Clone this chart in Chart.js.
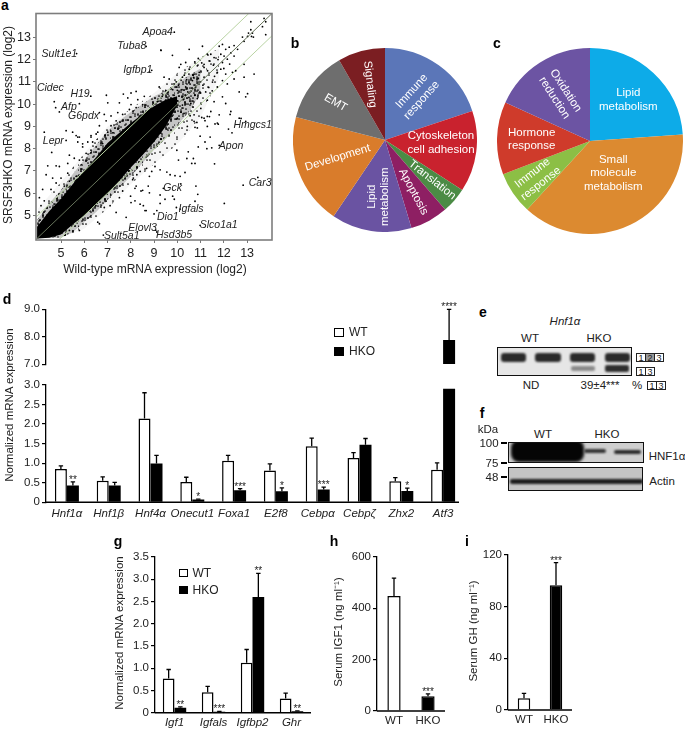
<!DOCTYPE html>
<html>
<head>
<meta charset="utf-8">
<title>SRSF3HKO figure</title>
<script src="https://cdn.jsdelivr.net/npm/chart.js@4/dist/chart.umd.min.js"></script>
<style>
  html, body { margin: 0; padding: 0; background: #fff; }
  #page { position: relative; width: 685px; height: 731px; overflow: hidden; font-family: "Liberation Sans", Arial, sans-serif; color: #222; }
  canvas { position: absolute; }
  .txt { position: absolute; white-space: nowrap; transform: translate(-50%, -50%); }
  .blot { position: absolute; }
  .frame { position: absolute; box-sizing: border-box; border: 1.5px solid #111; overflow: hidden; }
  .exon { position: absolute; box-sizing: border-box; border: 1px solid #222; font-size: 9px; line-height: 8px; text-align: center; }
</style>
</head>
<body>
<div id="page"></div>
<script>
// ---- panel a: values (log2) ----
const scatterTicks = [5, 6, 7, 8, 9, 10, 11, 12, 13];
const geneNames = ['Apoa4', 'Tuba8', 'Sult1e1', 'Igfbp1', 'Cidec', 'H19', 'Afp', 'G6pdx', 'Lepr', 'Hmgcs1', 'Apon', 'Car3', 'Gck', 'Igfals', 'Dio1', 'Slco1a1', 'Elovl3', 'Hsd3b5', 'Sult5a1'];
const geneLabelX = [9.16, 8.04, 4.93, 8.30, 4.54, 5.82, 5.34, 5.97, 4.67, 13.24, 12.31, 13.56, 9.80, 10.59, 9.59, 11.78, 8.51, 9.86, 7.61];
const geneLabelY = [13.23, 12.59, 12.27, 11.52, 10.72, 10.43, 9.89, 9.45, 8.32, 9.06, 8.10, 6.44, 6.23, 5.28, 4.95, 4.57, 4.44, 4.12, 4.07];
// the cloud is too dense to read dot by dot, so only its outline is read: a solid
// core and two bands shaded with a density texture (the texture is not data),
// then the dots that can be told apart are listed in scatterPoints
const coreX = [3.97, 4.5, 5, 5.5, 6, 6.5, 7, 7.5, 8, 8.5, 9, 9.5, 10];
const coreUpper = [4.5, 5.2, 5.75, 6.4, 7.0, 7.6, 8.25, 8.7, 9.15, 9.55, 9.9, 10.2, 10.35];
const coreLower = [3.97, 4.0, 4.15, 4.6, 5.0, 5.5, 6.0, 6.55, 7.15, 7.7, 8.3, 9.0, 9.95];
const innerX = [3.97, 4.5, 5, 5.5, 6, 6.5, 7, 7.5, 8, 8.5, 9, 9.5, 10, 10.5, 11];
const innerUpper = [4.8, 5.55, 6.15, 6.85, 7.5, 8.15, 8.8, 9.25, 9.65, 10.0, 10.35, 10.6, 10.95, 11.3, 11.6];
const innerLower = [3.97, 4.0, 4.0, 4.25, 4.7, 5.15, 5.7, 6.25, 6.75, 7.35, 7.95, 8.45, 9.05, 9.65, 10.5];
const outerX = [4, 5, 6, 7, 8, 9, 10, 11, 11.8];
const outerUpper = [5.3, 6.5, 7.8, 9.0, 9.8, 10.5, 11.4, 12.1, 12.5];
const outerLower = [3.97, 4.0, 4.4, 5.3, 6.4, 7.3, 8.2, 9.4, 11.2];
const guideX = [3.9, 14.1];
const guideMiddle = [3.9, 14.1];
const guideAbove = [4.9, 15.1];
const guideBelow = [2.9, 13.1];
const scatterPoints = [
  [5.67,12.27],[9.87,13.23],[8.66,12.59],[9.30,12.41],[9.79,12.19],[8.90,11.52],[6.28,10.36],[6.95,10.40],[4.71,10.11],[4.77,9.84],[4.93,9.65],[5.79,10.02],[4.28,8.74],[5.22,8.81],[5.22,8.37],[4.60,7.83],
  [7.01,10.06],[7.68,10.45],[8.01,10.5],[8.23,10.57],[7.87,10.28],[8.01,9.98],[8.30,10.2],[8.58,10.35],[8.51,9.98],[8.23,9.84],[7.94,9.76],[7.51,10.06],[7.44,9.62],[7.65,9.54],[7.15,9.47],[6.86,9.54],[6.65,9.62],[7.37,9.25],[7.15,9.03],[6.94,9.25],[6.65,9.03],[6.51,8.66],[6.29,8.52],[6.15,8.3],[5.93,8.22],[5.72,8.52],[5.5,8.74],[8.8,11.45],
  [5.65,8.59],[5.79,8.52],[5.72,8.3],[4.79,7.23],[4.93,7.2],[4.43,7.23],[4.36,6.83],[4.64,6.68],[5.0,6.68],[4.79,6.46],[4.57,6.17],[4.21,6.17],[4.07,5.80],[4.28,5.66],[4.14,5.44],[5.36,7.71],[5.57,7.57],[5.29,7.34],[5.79,7.49],[6.08,7.79],[6.29,7.93],[5.93,8.08],[6.51,8.08],[6.79,8.23],[6.36,8.3],[6.29,8.59],[6.58,8.74],[7.01,8.74],[5.65,6.76],[5.36,6.54],[5.14,6.32],[5.29,6.9],
  [6.82,4.12],[9.07,4.34],[6.65,4.63],[6.58,4.70],[5.79,4.33],[5.36,4.33],[7.37,5.14],[7.8,4.92],[7.11,5.44],[6.86,5.36],[6.5,5.44],[6.94,5.65],[7.51,5.8],[8.01,5.58],[8.66,5.22],[7.65,6.1],[8.23,6.32],[8.44,6.1],[8.8,6.76],[8.08,6.61],
  [13.46,6.71],[12.83,6.36],[11.6,7.32],[11.8,8.15],[12.02,5.54],[10.8,6.32],[10.88,5.95],[10.76,5.64],[10.98,4.56],[10.12,5.29],[9.96,5.36],[9.4,6.22],[10.15,6.42],[9.8,5.87],[9.87,5.73],[9.47,5.73],[9.26,5.92],[9.26,5.54],[9.12,5.22],[9.0,5.07],[9.12,4.26],[8.61,5.22],[8.4,5.51],[8.54,5.44],[8.18,5.66],[7.99,5.87],[8.18,6.22],[8.51,6.13],[8.75,6.32],[8.8,6.02],
  [10.33,6.93],[10.12,6.76],[9.69,6.83],[9.9,6.79],[9.55,6.95],[9.26,7.05],[9.04,7.2],[8.9,6.98],[8.68,7.12],[8.4,6.98],[8.26,6.83],[8.11,6.68],[10.69,7.56],[10.76,7.34],[10.62,7.34],[10.41,7.56],[10.05,7.49],[9.98,7.93],[10.47,7.86],[10.9,8.08],[11.27,8.0],[11.48,8.04],[12.2,8.88],[12.35,8.71],[11.41,8.52],[10.98,8.56],[11.19,8.3],[11.76,9.1],[11.38,9.44],[12.27,9.54],[12.74,9.36],[10.76,8.96],[10.84,9.18],[11.19,9.26],[11.62,9.11],[10.55,9.48],[11.05,9.4],
  [13.73,13.85],[13.80,13.70],[13.66,13.48],[13.16,13.70],[13.16,13.34],[13.06,13.19],[13.23,13.19],[13.02,13.04],[13.27,13.01],[12.80,13.01],[12.87,12.82],[13.19,13.04],[13.80,13.12],[12.44,12.63],[12.23,12.56],[11.94,12.68],[11.80,12.60],[12.08,12.46],[11.08,12.60],[10.51,12.46],[9.29,12.43],[12.01,12.16],[12.15,12.02],[11.87,12.24],[12.44,12.16],[12.59,12.46],[11.94,11.87],[11.58,12.09],[11.44,12.24],[11.29,12.24],[11.15,11.79],[11.37,11.94],[10.86,11.72],[10.36,11.87],[10.15,11.79],[10.08,11.65],[10.51,11.57],[10.72,11.35],[10.94,11.43],[11.15,11.65],[11.72,11.43],[11.87,11.57],[12.08,11.35],[12.37,11.43],[12.51,11.50],[12.87,11.79],[13.30,11.35],[12.87,11.21],[12.44,11.13],[11.94,11.06],[11.51,10.99],[11.15,11.21],[10.65,11.06],[10.22,11.21],[9.86,10.91],[9.65,11.13],[9.43,11.21],[9.22,10.77],[9.50,10.62],[10.00,10.62],[10.36,10.77],[10.79,10.77],[11.22,10.55],[11.72,10.77],[12.15,10.91],[12.66,10.55],[13.02,10.47],[12.94,10.33],[11.94,10.33],[11.58,10.11],[12.08,10.03],[11.29,10.18],[10.86,10.25],[10.36,10.40],
  [9.86,10.40],[9.50,10.18],[9.14,10.11],[9.72,9.89],[10.22,9.96],[10.58,10.03],[11.01,9.81],[11.44,9.67],[11.80,9.52],[11.15,9.37],[12.30,9.67],[12.94,9.23],[11.72,9.15],[11.29,9.45],[10.72,9.52],[10.29,9.59],[10.72,9.23],[10.0,9.37],[9.72,9.52],[9.29,9.67],[11.29,9.0],[10.86,8.93],[10.43,9.0],[12.66,9.37],
  [10.4,11.1],[10.55,10.9],[10.7,11.2],[10.85,10.95],[10.3,11.3],[10.5,11.35],[10.9,11.15],[11.0,11.0],[11.1,10.85],[10.6,10.6],[10.45,10.55],[10.2,10.65],[10.05,10.85],[9.95,11.0],[9.8,10.65],[9.6,10.45],[9.35,10.35],[9.7,10.2],[10.0,10.15],[10.25,10.2],[10.5,10.3],[10.75,10.4],[11.0,10.5],[11.35,10.75],[11.5,10.6],[11.6,11.25],[11.3,11.5],[11.05,11.85],[10.75,11.9],[10.9,12.05],[11.55,11.75],[11.75,12.0],[12.0,11.6],[12.25,11.8],[12.3,12.3]
];

// ---- panels b, c ----
const pieBNames = [['Immune', 'response'], ['Cytoskeleton', 'cell adhesion'], ['Translation'], ['Apoptosis'], ['Lipid', 'metabolism'], ['Development'], ['EMT'], ['Signaling']];
const pieBValues = [19.9, 14.3, 4.5, 6.7, 14.1, 19.6, 12.7, 8.3];
const pieCNames = [['Lipid', 'metabolism'], ['Small', 'molecule', 'metabolism'], ['Immune', 'response'], ['Hormone', 'response'], ['Oxidation', 'reduction']];
const pieCValues = [23.9, 37.9, 7.4, 12.6, 18.2];

// ---- panel d ----
const genesD = ['Hnf1α', 'Hnf1β', 'Hnf4α', 'Onecut1', 'Foxa1', 'E2f8', 'Cebpα', 'Cebpζ', 'Zhx2', 'Atf3'];
const wtD = [0.85, 0.55, 2.14, 0.52, 1.06, 0.81, 1.43, 1.13, 0.54, 0.83];
const wtDTop = [0.93, 0.65, 2.8, 0.64, 1.2, 0.98, 1.64, 1.27, 0.63, 1.01];
const hkoD = [0.43, 0.43, 0.99, 0.07, 0.31, 0.28, 0.33, 1.47, 0.29, 2.9];
const hkoDTop = [0.52, 0.51, 1.2, 0.08, 0.35, 0.37, 0.39, 1.63, 0.36, null];
const hkoDStars = ['**', '', '', '*', '***', '*', '***', '', '*', ''];
const hkoDHigh = [null, null, null, null, null, null, null, null, null, 7.88];
const hkoDHighTop = [null, null, null, null, null, null, null, null, null, 9.0];
const hkoDHighStars = ['', '', '', '', '', '', '', '', '', '****'];
const noBars = [null, null, null, null, null, null, null, null, null, null];
const ticksDLow = ['0', '0.5', '1.0', '1.5', '2.0', '2.5', '3.0'];
const ticksDHigh = ['7.0', '8.0', '9.0'];

// ---- panel g ----
const genesG = ['Igf1', 'Igfals', 'Igfbp2', 'Ghr'];
const wtG = [0.77, 0.46, 1.12, 0.32];
const wtGTop = [0.97, 0.59, 1.42, 0.44];
const hkoG = [0.11, 0.02, 2.6, 0.03];
const hkoGTop = [0.13, 0.03, 3.13, 0.04];
const hkoGStars = ['**', '***', '**', '**'];
const ticksG = ['0', '0.5', '1.0', '1.5', '2.0', '2.5', '3.0', '3.5'];

// ---- panels h, i ----
const groupsSerum = ['WT', 'HKO'];
const igf1Values = [448, 57];
const igf1Top = [517, 67];
const igf1Stars = ['', '***'];
const ticksIgf1 = ['0', '200', '400', '600'];
const ghValues = [9.1, 96.5];
const ghTop = [12.9, 114];
const ghStars = ['', '***'];
const ticksGh = ['0', '40', '80', '120'];

Chart.defaults.font.family = '"Liberation Sans", Arial, sans-serif';
Chart.defaults.font.size = 12;
Chart.defaults.color = '#222';
Chart.defaults.animation = false;
Chart.defaults.plugins.legend.display = false;
Chart.defaults.plugins.tooltip.enabled = false;

const page = document.getElementById('page');

function label(text, cx, cy, size, extra) {
  const d = document.createElement('div');
  d.className = 'txt';
  d.textContent = text;
  d.style.left = cx + 'px';
  d.style.top = cy + 'px';
  d.style.fontSize = size + 'px';
  if (extra) Object.assign(d.style, extra);
  page.appendChild(d);
}
function sideTitle(text, cx, cy, size) {
  label(text, cx, cy, size, { transform: 'translate(-50%, -50%) rotate(-90deg)' });
}
function letter(text, cx, cy) {
  label(text, cx, cy, 14, { fontWeight: 'bold', color: '#000' });
}
function legendBoxes(x, y1, y2, w, h, size) {
  [[y1, '#fff', 'WT'], [y2, '#000', 'HKO']].forEach(function (row) {
    const b = document.createElement('div');
    b.style.cssText = 'position:absolute;box-sizing:border-box;border:1.3px solid #000;';
    b.style.left = x + 'px';
    b.style.top = (row[0] - h / 2) + 'px';
    b.style.width = w + 'px';
    b.style.height = h + 'px';
    b.style.background = row[1];
    page.appendChild(b);
    label(row[2], 0, row[0], size, { left: (x + w + 5) + 'px', transform: 'translateY(-50%)' });
  });
}

// whiskers and stars sit on the bars, from the same y scale
const errorBars = {
  id: 'errorBars',
  afterDatasetsDraw(chart) {
    const ctx = chart.ctx;
    const y = chart.scales.y;
    chart.data.datasets.forEach(function (ds, i) {
      if (!ds.errTop) return;
      chart.getDatasetMeta(i).data.forEach(function (bar, j) {
        const top = ds.errTop[j];
        if (top === null || top === undefined) return;
        const py = y.getPixelForValue(top);
        ctx.save();
        ctx.strokeStyle = '#000';
        ctx.lineWidth = 1.3;
        ctx.beginPath();
        ctx.moveTo(bar.x, bar.y);
        ctx.lineTo(bar.x, py);
        ctx.moveTo(bar.x - 2.2, py);
        ctx.lineTo(bar.x + 2.2, py);
        ctx.stroke();
        if (ds.stars && ds.stars[j]) {
          ctx.fillStyle = '#222';
          ctx.font = '10px "Liberation Sans"';
          ctx.textAlign = 'center';
          ctx.textBaseline = 'alphabetic';
          ctx.fillText(ds.stars[j], bar.x, py + 1);
        }
        ctx.restore();
      });
    });
  }
};
const baseline = {
  id: 'baseline',
  afterDatasetsDraw(chart, args, opts) {
    if (!opts.show) return;
    const a = chart.chartArea;
    chart.ctx.save();
    chart.ctx.strokeStyle = '#000';
    chart.ctx.lineWidth = 1.4;
    chart.ctx.beginPath();
    chart.ctx.moveTo(a.left, a.bottom);
    chart.ctx.lineTo(a.right - (opts.trim || 0), a.bottom);
    chart.ctx.stroke();
    chart.ctx.restore();
  }
};
const scatterExtras = {
  id: 'scatterExtras',
  afterDraw(chart) {
    const ctx = chart.ctx, a = chart.chartArea;
    ctx.save();
    ctx.strokeStyle = '#7d7d7d';
    ctx.lineWidth = 1.6;
    ctx.strokeRect(a.left, a.top, a.right - a.left, a.bottom - a.top);
    ctx.fillStyle = '#222';
    ctx.font = 'italic 10.5px "Liberation Sans"';
    ctx.textAlign = 'center';
    ctx.textBaseline = 'middle';
    geneNames.forEach(function (name, i) {
      ctx.fillText(name, chart.scales.x.getPixelForValue(geneLabelX[i]), chart.scales.y.getPixelForValue(geneLabelY[i]));
    });
    ctx.restore();
  }
};
const pieLabels = {
  id: 'pieLabels',
  afterDatasetsDraw(chart, args, opts) {
    const ctx = chart.ctx;
    const arc = chart.getDatasetMeta(0).data[0];
    ctx.save();
    ctx.fillStyle = '#fff';
    ctx.font = '11.5px "Liberation Sans"';
    ctx.textAlign = 'center';
    ctx.textBaseline = 'middle';
    opts.names.forEach(function (lines, i) {
      const p = opts.places[i];
      ctx.save();
      ctx.translate(arc.x + p[0], arc.y + p[1]);
      ctx.rotate(p[2] * Math.PI / 180);
      lines.forEach(function (line, k) {
        ctx.fillText(line, 0, (k - (lines.length - 1) / 2) * 13.5);
      });
      ctx.restore();
    });
    ctx.restore();
  }
};

// plot rectangle given in page pixels, the scales are fitted round it
function makeChart(box, plot, config) {
  const c = document.createElement('canvas');
  c.width = box.w;
  c.height = box.h;
  c.style.left = box.x + 'px';
  c.style.top = box.y + 'px';
  c.style.width = box.w + 'px';
  c.style.height = box.h + 'px';
  page.appendChild(c);
  config.options = config.options || {};
  config.options.responsive = false;
  config.options.maintainAspectRatio = false;
  config.options.layout = { padding: { top: plot.t - box.y, right: box.x + box.w - plot.r, left: 0, bottom: 0 } };
  const s = config.options.scales;
  if (s) {
    s.x.afterFit = function (scale) { scale.height = box.y + box.h - plot.b; };
    s.y.afterFit = function (scale) { scale.width = plot.l - box.x; };
  }
  return new Chart(c.getContext('2d'), config);
}

function xy(xs, ys) {
  return xs.map(function (x, i) { return { x: x, y: ys[i] }; });
}
function band(xs, ys, color, order, fill) {
  return { type: 'line', data: xy(xs, ys), borderWidth: 0, pointRadius: 0, tension: 0, backgroundColor: color, fill: fill, order: order };
}
function guide(xs, ys, color, order) {
  return { type: 'line', data: xy(xs, ys), borderColor: color, borderWidth: 1, pointRadius: 0, fill: false, order: order };
}
// stipple used to shade the density bands
const stippleDots = [[3, 5], [11, 2], [19, 7], [27, 3], [7, 12], [15, 14], [23, 11], [30, 16], [2, 19], [10, 22], [18, 20], [26, 24], [5, 28], [13, 30], [21, 27], [29, 30]];
function stipple(layers, wash) {
  const t = document.createElement('canvas');
  t.width = 32;
  t.height = 32;
  const g = t.getContext('2d');
  g.fillStyle = wash;
  g.fillRect(0, 0, 32, 32);
  g.fillStyle = '#000';
  layers.forEach(function (shift) {
    stippleDots.forEach(function (p) {
      g.beginPath();
      g.arc((p[0] + shift[0]) % 32, (p[1] + shift[1]) % 32, 0.85, 0, 7);
      g.fill();
    });
  });
  return g.createPattern(t, 'repeat');
}
const outerShade = stipple([[0, 0], [6, 9]], 'rgba(0,0,0,0.04)');
const innerShade = stipple([[0, 0], [5, 3], [9, 8], [14, 5], [2, 14], [18, 17], [22, 9]], 'rgba(0,0,0,0.2)');

// panel a
makeChart({ x: 14, y: 4, w: 268, h: 256 }, { l: 36, t: 9, r: 272, b: 240 }, {
  type: 'scatter',
  plugins: [scatterExtras],
  data: {
    datasets: [
      band(outerX, outerUpper, outerShade, 6, '+1'),
      band(outerX, outerLower, 'rgba(0,0,0,0)', 6, false),
      band(innerX, innerUpper, innerShade, 5, '+1'),
      band(innerX, innerLower, 'rgba(0,0,0,0)', 5, false),
      band(coreX, coreUpper, '#000', 4, '+1'),
      band(coreX, coreLower, 'rgba(0,0,0,0)', 4, false),
      guide(guideX, guideMiddle, '#66735a', 1),
      guide(guideX, guideAbove, '#b9d3a3', 3),
      guide(guideX, guideBelow, '#b9d3a3', 3),
      { data: scatterPoints.map(function (p) { return { x: p[0], y: p[1] }; }), backgroundColor: '#000', borderWidth: 0, pointRadius: 0.9, order: 2 }
    ]
  },
  options: {
    scales: {
      x: {
        type: 'linear', min: 3.925, max: 14.07,
        afterBuildTicks: function (s) { s.ticks = scatterTicks.map(function (v) { return { value: v }; }); },
        grid: { drawOnChartArea: false, tickLength: 3, color: '#777' },
        border: { display: false },
        ticks: { font: { size: 12.5 }, padding: 3, maxRotation: 0, autoSkip: false }
      },
      y: {
        type: 'linear', min: 3.9, max: 14.07,
        afterBuildTicks: function (s) { s.ticks = scatterTicks.map(function (v) { return { value: v }; }); },
        grid: { drawOnChartArea: false, tickLength: 3, color: '#777' },
        border: { display: false },
        ticks: { font: { size: 12.5 }, padding: 2, autoSkip: false }
      }
    }
  }
});

// panels b, c
const pieBColors = ['#5b76b8', '#c9222e', '#4b8b45', '#8e1f63', '#6a53a2', '#d97c2b', '#6e6e6e', '#7b1e22'];
const pieCColors = ['#0dabe8', '#dc8a30', '#8cbf45', '#cf3b2b', '#6c54a3'];
const pieBPlaces = [[31.7, -44.3, -48], [56, 3, 0], [47.3, 40, 38], [28.3, 51.7, 62], [-6.7, 56.7, -90], [-47.3, 17.7, -17], [-49.3, -37.3, 30], [-15, -55.7, 83]];
const pieCPlaces = [[38.3, -41, 0], [23.3, 32.3, 0], [-53.3, 37.3, -38], [-58.3, -1.7, 0], [-30, -46.7, 57]];
makeChart({ x: 293, y: 48, w: 184, h: 184 }, { l: 293, t: 48, r: 477, b: 232 }, {
  type: 'pie',
  plugins: [pieLabels],
  data: { datasets: [{ data: pieBValues, backgroundColor: pieBColors, borderWidth: 0 }] },
  options: { plugins: { pieLabels: { names: pieBNames, places: pieBPlaces } } }
});
makeChart({ x: 497, y: 48, w: 186, h: 186 }, { l: 497, t: 48, r: 683, b: 234 }, {
  type: 'pie',
  plugins: [pieLabels],
  data: { datasets: [{ data: pieCValues, backgroundColor: pieCColors, borderWidth: 0 }] },
  options: { plugins: { pieLabels: { names: pieCNames, places: pieCPlaces } } }
});

// bar panels share one look
function barChart(box, plot, o) {
  return makeChart(box, plot, {
    type: 'bar',
    plugins: [errorBars, baseline],
    data: { labels: o.labels, datasets: o.datasets },
    options: {
      datasets: { bar: { categoryPercentage: o.cat, barPercentage: o.bar } },
      plugins: { baseline: { show: !o.noBase, trim: o.trim || 0 } },
      scales: {
        x: {
          display: !o.noX,
          grid: { display: false, drawTicks: false },
          border: { display: false },
          ticks: { font: { size: o.xSize || 11.5, style: o.italic ? 'italic' : 'normal' }, padding: o.xPad === undefined ? 5 : o.xPad, maxRotation: 0, autoSkip: false }
        },
        y: {
          min: o.min, max: o.max,
          afterBuildTicks: o.tickValues ? function (s) { s.ticks = o.tickValues.map(function (v) { return { value: v }; }); } : undefined,
          grid: { drawOnChartArea: false, tickLength: 4, color: '#000', lineWidth: 1.2 },
          border: { color: '#000', width: 1.3 },
          ticks: { font: { size: 11.5 }, padding: 2, autoSkip: false, callback: function (v, i) { return o.tickLabels[i]; } }
        }
      }
    }
  });
}
function wtSet(values, tops, stars) {
  return { data: values, backgroundColor: '#fff', borderColor: '#000', borderWidth: 1.5, errTop: tops, stars: stars };
}
function hkoSet(values, tops, stars) {
  return { data: values, backgroundColor: '#000', borderColor: '#000', borderWidth: 0, errTop: tops, stars: stars };
}

// panel d, broken axis: two charts on one x layout
barChart({ x: 0, y: 296, w: 470, h: 77.3 }, { l: 46, t: 309.3, r: 464, b: 373.3 }, {
  labels: genesD, min: 7, max: 9, cat: 0.574, bar: 1, noX: true, noBase: true,
  tickValues: [7, 8, 9], tickLabels: ticksDHigh,
  datasets: [wtSet(noBars, null, null), hkoSet(hkoDHigh, hkoDHighTop, hkoDHighStars)]
});
barChart({ x: 0, y: 376, w: 470, h: 146 }, { l: 46, t: 382.3, r: 464, b: 502.3 }, {
  labels: genesD, min: 0, max: 3, cat: 0.574, bar: 1, italic: true, trim: 5,
  tickValues: [0, 0.5, 1, 1.5, 2, 2.5, 3], tickLabels: ticksDLow,
  datasets: [wtSet(wtD, wtDTop, null), hkoSet(hkoD, hkoDTop, hkoDStars)]
});

// panel g
barChart({ x: 120, y: 548, w: 195, h: 183 }, { l: 155, t: 554, r: 311, b: 712.7 }, {
  labels: genesG, min: 0, max: 3.5, cat: 0.6, bar: 1, italic: true, xPad: 3,
  tickValues: [0, 0.5, 1, 1.5, 2, 2.5, 3, 3.5], tickLabels: ticksG,
  datasets: [wtSet(wtG, wtGTop, null), hkoSet(hkoG, hkoGTop, hkoGStars)]
});

// panels h, i
function serumChart(box, plot, values, tops, stars, max, tickValues, tickLabels) {
  const colors = ['#fff', '#000'];
  barChart(box, plot, {
    labels: groupsSerum, min: 0, max: max, cat: 0.39, bar: 1, xPad: 3, tickValues: tickValues, tickLabels: tickLabels,
    datasets: [{ data: values, backgroundColor: colors, borderColor: '#000', borderWidth: 1.5, errTop: tops, stars: stars }]
  });
}
serumChart({ x: 343, y: 548, w: 105, h: 183 }, { l: 377, t: 554, r: 445, b: 711 }, igf1Values, igf1Top, igf1Stars, 600, [0, 200, 400, 600], ticksIgf1);
serumChart({ x: 476, y: 546, w: 100, h: 185 }, { l: 508, t: 552, r: 572, b: 710 }, ghValues, ghTop, ghStars, 120, [0, 40, 80, 120], ticksGh);

// panel letters, axis titles, legends
letter('a', 5, 5);
letter('b', 295, 43);
letter('c', 497, 43);
letter('d', 7, 299);
letter('e', 483, 312);
letter('f', 482, 413);
letter('g', 118, 541);
letter('h', 334, 541);
letter('i', 467, 541);
label('Wild-type mRNA expression (log2)', 155, 269, 12);
sideTitle('SRSF3HKO mRNA expression (log2)', 8, 125, 12);
sideTitle('Normalized mRNA expression', 9, 405, 11.5);
sideTitle('Normalized mRNA expression', 119, 633, 11.5);
sideTitle('Serum IGF1 (ng ml⁻¹)', 337, 632, 11.5);
sideTitle('Serum GH (ng ml⁻¹)', 472, 631, 11.5);
legendBoxes(334, 332, 351, 10, 9, 12);
legendBoxes(179, 572.5, 589.5, 8.5, 8, 12);

// panels e, f: gel and blots, plain page elements
function blot(parent, x, y, w, h, color, blur, radius) {
  const d = document.createElement('div');
  d.className = 'blot';
  d.style.cssText += ';left:' + x + 'px;top:' + y + 'px;width:' + w + 'px;height:' + h + 'px;background:' + color + ';filter:blur(' + blur + 'px);border-radius:' + radius + 'px;';
  parent.appendChild(d);
}
function frame(x, y, w, h, color) {
  const d = document.createElement('div');
  d.className = 'frame';
  d.style.left = x + 'px';
  d.style.top = y + 'px';
  d.style.width = w + 'px';
  d.style.height = h + 'px';
  d.style.background = color;
  page.appendChild(d);
  return d;
}
function exons(x, y, cells) {
  cells.forEach(function (cell, i) {
    const d = document.createElement('div');
    d.className = 'exon';
    d.textContent = cell;
    d.style.left = (x + i * 9) + 'px';
    d.style.top = y + 'px';
    d.style.width = '10px';
    d.style.height = '9px';
    if (cell === '2') d.style.background = '#999';
    page.appendChild(d);
  });
}
const gel = frame(497, 347, 135, 29, '#e6e6e6');
[[3, 25], [37, 26], [72, 25], [107, 25]].forEach(function (b) { blot(gel, b[0], 4.5, b[1], 9, '#2a2a2a', 0.9, 3); });
blot(gel, 73, 18, 24, 5, '#8a8a8a', 1, 2);
blot(gel, 107, 17, 24, 7, '#2d2d2d', 0.9, 2);
label('Hnf1α', 565, 321, 11.5, { fontStyle: 'italic' });
label('WT', 530, 338, 11.5);
label('HKO', 599, 338, 11.5);
label('ND', 531, 385, 11.5);
label('39±4***', 600, 385, 11.5);
label('%', 637, 385, 11.5);
exons(636, 353, ['1', '2', '3']);
exons(636, 367, ['1', '3']);
exons(647, 381, ['1', '3']);

const blotTop = frame(508, 442, 136, 21, '#cfcfcf');
blot(blotTop, 2, -3, 73, 22, '#050505', 1.5, 8);
blot(blotTop, 75, 6, 22, 4, '#333', 1, 2);
blot(blotTop, 105, 7, 27, 4, '#2a2a2a', 1, 2);
const blotBottom = frame(508, 467, 135, 24, '#c4c4c4');
blot(blotBottom, 1, 11, 133, 5, '#1c1c1c', 1.2, 2);
label('kDa', 488, 429, 11.5);
label('WT', 543, 434, 11.5);
label('HKO', 607, 434, 11.5);
label('100', 489, 443, 11.5);
label('75', 492, 463, 11.5);
label('48', 492, 477, 11.5);
[[443, 501, 6], [463, 501, 6], [477, 501, 6]].forEach(function (t) { blot(page, t[1], t[0] - 0.6, t[2], 1.2, '#000', 0, 0); });
label('HNF1α', 667, 456, 11.5);
label('Actin', 662, 481, 11.5);
</script>
</body>
</html>
